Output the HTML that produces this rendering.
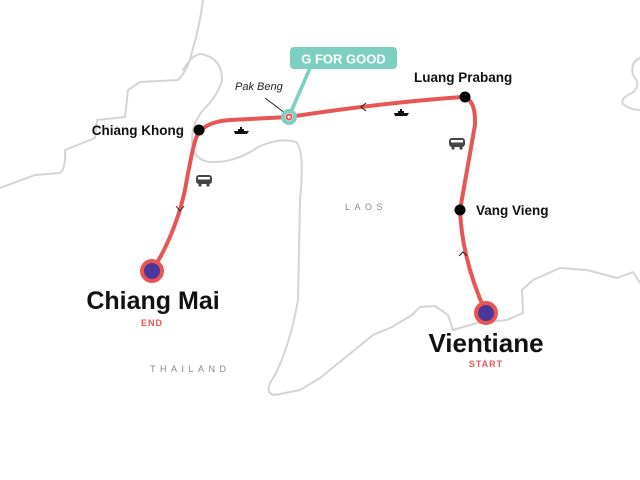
<!DOCTYPE html>
<html><head><meta charset="utf-8"><style>
html,body{margin:0;padding:0;background:#fff;}
svg{display:block;font-family:"Liberation Sans",sans-serif;}
</style></head><body>
<svg width="640" height="480" viewBox="0 0 640 480" xmlns="http://www.w3.org/2000/svg">
<defs>
<g id="boat"><path d="M0,3 L15,3 L13,6 L1,6 Z" fill="#111"/><rect x="4" y="1" width="6" height="2" fill="#111"/><rect x="6" y="-1" width="2" height="2" fill="#111"/></g>
<g id="bus"><rect x="0" y="0" width="16" height="9" rx="3" fill="#444"/><rect x="2" y="2" width="12" height="2.5" fill="#fff"/><circle cx="4" cy="10" r="1.6" fill="#444"/><circle cx="12" cy="10" r="1.6" fill="#444"/></g>
</defs>
<g fill="none" stroke="#d4d4d4" stroke-width="2" stroke-linejoin="round" stroke-linecap="round">
<path d="M0,188 L35,175 L60,173 Q66,168 65,150 L95,138 L97,120 L125,117 L128,90 L140,82 L178,80 Q188,70 192,52 Q200,25 203,0"/>
<path d="M183,70 Q195,50 205,55 Q222,60 222,80 Q218,95 205,108 Q192,122 192,140 Q192,160 210,162 Q235,163 258,147 Q280,137 296,142 Q305,150 300,200 L298,300 Q290,345 275,375 Q262,393 275,395 L300,390 L320,378 L373,335 L392,327 L412,315 L420,307 L435,306 L448,315 L453,330 L477,323 L507,320 L523,313 L522,290 L533,280 L560,268 L587,270 L617,278 L633,272 L640,283"/>
<path d="M640,58 Q630,62 633,75 Q642,86 632,93 Q620,98 623,104 Q630,110 640,110"/>
</g>
<g fill="none" stroke="#e85555" stroke-width="4" stroke-linecap="round" stroke-linejoin="round">
<path d="M152,271 Q175,235 185,190 Q192,150 196,138 Q202,122 230,120 L289,117 Q380,103 462,97 Q476,98 475,125 L460,210 Q462,260 486,313"/>
</g>
<g fill="none" stroke="#222" stroke-width="1">
<path d="M176,206 L180,211 L184,206"/>
<path d="M366,103 L361,107 L366,111"/>
<path d="M459,256 L463,252 L467,256"/>
<path d="M285,113 L265,98"/>
</g>
<line x1="310" y1="68" x2="291" y2="112" stroke="#7dcfc2" stroke-width="3.5"/>
<rect x="290" y="47" width="107" height="22" rx="4" fill="#7dcfc2"/>
<text x="343.5" y="63.5" text-anchor="middle" font-size="13" font-weight="bold" fill="#fff">G FOR GOOD</text>
<circle cx="289" cy="117" r="6" fill="#fff" stroke="#7dcfc2" stroke-width="4"/>
<circle cx="289" cy="117" r="2.5" fill="#fff" stroke="#e85555" stroke-width="2"/>
<circle cx="199" cy="130" r="5.5" fill="#000"/>
<circle cx="465" cy="97" r="5.5" fill="#000"/>
<circle cx="460" cy="210" r="5.5" fill="#000"/>
<circle cx="152" cy="271" r="10" fill="#4b3699" stroke="#e85555" stroke-width="4"/>
<circle cx="486" cy="313" r="10" fill="#4b3699" stroke="#e85555" stroke-width="4"/>
<use href="#boat" x="234" y="128"/>
<use href="#boat" x="394" y="110"/>
<use href="#bus" x="196" y="175"/>
<use href="#bus" x="449" y="138"/>
<text x="184" y="135" text-anchor="end" font-size="13.5" font-weight="bold" fill="#111">Chiang Khong</text>
<text x="235" y="90" font-size="11" font-style="italic" fill="#222">Pak Beng</text>
<text x="414" y="82" font-size="13.5" font-weight="bold" fill="#111">Luang Prabang</text>
<text x="476" y="215" font-size="13.5" font-weight="bold" fill="#111">Vang Vieng</text>
<text x="153" y="309" text-anchor="middle" font-size="25" font-weight="bold" fill="#111">Chiang Mai</text>
<text x="152" y="326" text-anchor="middle" font-size="9" font-weight="bold" fill="#e85555" letter-spacing="1">END</text>
<text x="486" y="352" text-anchor="middle" font-size="26" font-weight="bold" fill="#111">Vientiane</text>
<text x="486" y="367" text-anchor="middle" font-size="9" font-weight="bold" fill="#e85555" letter-spacing="1">START</text>
<text x="345" y="210" font-size="9" fill="#888" letter-spacing="4.5">LAOS</text>
<text x="150" y="372" font-size="9" fill="#888" letter-spacing="4.5">THAILAND</text>
</svg>
</body></html>
